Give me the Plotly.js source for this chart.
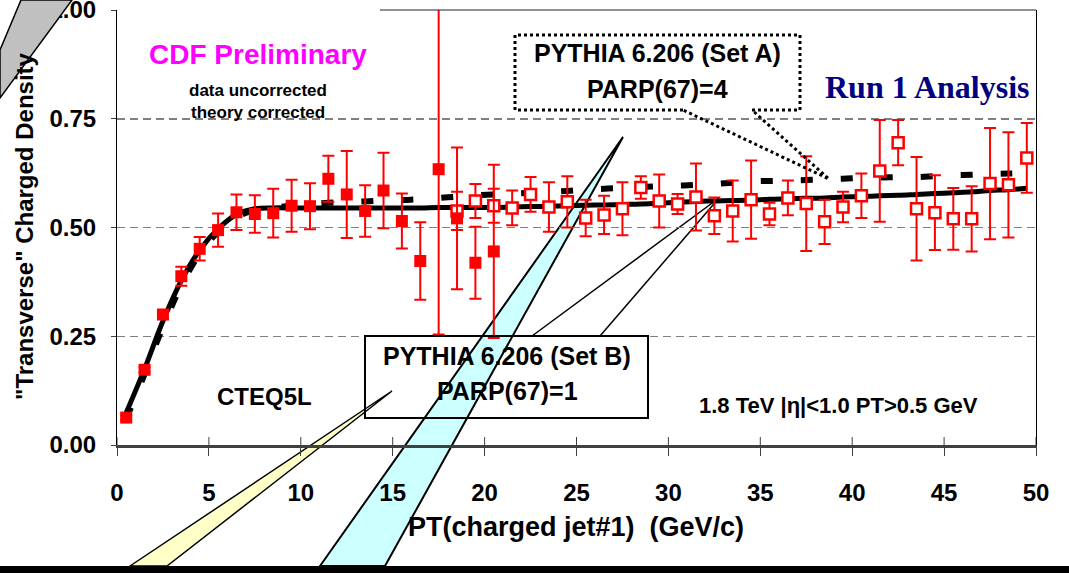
<!DOCTYPE html>
<html><head><meta charset="utf-8">
<script src="https://cdn.plot.ly/plotly-3.0.1.min.js"></script>
<style>html,body{margin:0;padding:0;background:#fff}#chart{width:1069px;height:573px}</style>
</head><body><div id="chart"></div>
<script>
// ---- data ----
const binsFilled = [0.5,1.5,2.5,3.5,4.5,5.5,6.5,7.5,8.5,9.5,10.5,11.5,12.5,13.5,14.5,15.5,16.5,17.5,18.5,19.5,20.5];
const densFilled = [0.063,0.173,0.300,0.388,0.451,0.494,0.535,0.531,0.533,0.550,0.549,0.612,0.576,0.538,0.585,0.515,0.423,0.634,0.521,0.419,0.445];
const errFilled  = [0.005,0.006,0.010,0.022,0.027,0.038,0.041,0.043,0.056,0.060,0.053,0.053,0.100,0.059,0.087,0.063,0.089,0.380,0.163,0.083,0.199];

const binsOpen = [18.5,19.5,20.5,21.5,22.5,23.5,24.5,25.5,26.5,27.5,28.5,29.5,30.5,31.5,32.5,33.5,34.5,35.5,36.5,37.5,38.5,39.5,40.5,41.5,42.5,43.5,44.5,45.5,46.5,47.5,48.5,49.5];
const densOpen = [0.538,0.561,0.550,0.545,0.576,0.547,0.559,0.522,0.529,0.543,0.592,0.561,0.554,0.570,0.527,0.538,0.564,0.531,0.568,0.555,0.513,0.547,0.573,0.630,0.695,0.543,0.534,0.520,0.520,0.601,0.598,0.660];
const errOpen  = [0.044,0.039,0.039,0.040,0.040,0.057,0.059,0.042,0.044,0.061,0.026,0.061,0.023,0.077,0.042,0.070,0.090,0.026,0.040,0.109,0.051,0.035,0.051,0.117,0.052,0.119,0.086,0.071,0.075,0.128,0.121,0.080];

const binsTheory = [0.5,1.5,2.5,3.5,4.5,5.5,6.5,7.5,8.5,9.5,10.5,11.5,12.5,13.5,14.5,15.5,16.5,17.5,18.5,19.5,20.5,21.5,22.5,23.5,24.5,25.5,26.5,27.5,28.5,29.5,30.5,31.5,32.5,33.5,34.5,35.5,36.5,37.5,38.5,39.5,40.5,41.5,42.5,43.5,44.5,45.5,46.5,47.5,48.5,49.5];
const pythiaSetB = [0.074,0.175,0.285,0.378,0.448,0.497,0.530,0.543,0.545,0.545,0.545,0.545,0.545,0.545,0.545,0.545,0.545,0.546,0.546,0.546,0.546,0.547,0.548,0.549,0.550,0.551,0.552,0.553,0.554,0.556,0.558,0.560,0.561,0.562,0.563,0.565,0.566,0.567,0.568,0.570,0.571,0.573,0.574,0.576,0.578,0.580,0.582,0.585,0.587,0.590];
const pythiaSetA = [0.060,0.163,0.272,0.366,0.440,0.490,0.524,0.540,0.546,0.550,0.553,0.557,0.559,0.560,0.562,0.563,0.565,0.568,0.571,0.574,0.576,0.578,0.580,0.582,0.584,0.587,0.589,0.591,0.593,0.595,0.596,0.598,0.600,0.603,0.606,0.607,0.608,0.609,0.611,0.612,0.614,0.615,0.616,0.616,0.618,0.620,0.621,0.623,0.624,0.625];

const xTicks = [0,5,10,15,20,25,30,35,40,45,50];
const yTicks = [0,0.25,0.5,0.75,1.0];
const yTickText = ['0.00','0.25','0.50','0.75','1.00'];

// ---- layout helpers (pixel -> paper) ----
const W = 1069, H = 573, PL = 117, PR = 1036, PT = 10, PB = 445;
const fx = px => (px - PL) / (PR - PL);
const fy = py => (PB - py) / (PB - PT);
const path = pts => 'M' + pts.map(p => fx(p[0]) + ',' + fy(p[1])).join(' L') + ' Z';
const FONT = 'Liberation Sans, Arial, sans-serif';

const traces = [
  {x: binsTheory, y: pythiaSetB, mode: 'lines', line: {color: '#000', width: 5, shape: 'spline', smoothing: 1}, hoverinfo: 'skip', name: 'PYTHIA 6.206 (Set B)'},
  {x: binsTheory, y: pythiaSetA, mode: 'lines', line: {color: '#000', width: 6, dash: '12px,28px', shape: 'spline', smoothing: 1}, hoverinfo: 'skip', name: 'PYTHIA 6.206 (Set A)'},
  {x: binsOpen, y: densOpen, mode: 'markers', name: 'CDF data (open)',
   error_y: {type: 'data', array: errOpen, visible: true, color: '#ff0000', thickness: 2, width: 6},
   marker: {symbol: 'square', size: 11, color: '#ffffff', line: {color: '#ff0000', width: 2.5}}},
  {x: binsFilled, y: densFilled, mode: 'markers', name: 'CDF data', cliponaxis: false,
   error_y: {type: 'data', array: errFilled, visible: true, color: '#ff0000', thickness: 2, width: 6},
   marker: {symbol: 'square', size: 12, color: '#ff0000'}}
];

function ann(text, px, py, size, opts) {
  return Object.assign({text: text, xref: 'paper', yref: 'paper', x: fx(px), y: fy(py),
    xanchor: 'center', yanchor: 'middle', showarrow: false,
    font: {family: FONT, size: size, color: '#000'}}, opts || {});
}

const annotations = [
  ann('<b>CDF Preliminary</b>', 258, 55, 28, {font: {family: FONT, size: 28, color: '#ff00ff'}}),
  ann('<b>data uncorrected</b>', 258, 90, 17),
  ann('<b>theory corrected</b>', 258, 113, 17),
  ann('<b>Run 1 Analysis</b>', 927, 87, 32, {font: {family: 'Liberation Serif, Times New Roman, serif', size: 32, color: '#000080'}}),
  ann('<b>PYTHIA 6.206 (Set A)</b>', 657, 53, 25),
  ann('<b>PARP(67)=4</b>', 657, 89, 25),
  ann('<b>PYTHIA 6.206 (Set B)</b>', 507, 356, 25),
  ann('<b>PARP(67)=1</b>', 507, 391, 25),
  ann('<b>CTEQ5L</b>', 264, 396, 24),
  ann('<b>1.8 TeV |&#951;|&lt;1.0 PT&gt;0.5 GeV</b>', 838, 405, 22),
  ann('<b>PT(charged jet#1) &nbsp;(GeV/c)</b>', 576, 527, 27),
  ann('<b>"Transverse" Charged Density</b>', 24, 226, 24, {textangle: -90})
];

const shapes = [
  // call-out pointers (drawn under the data)
  {type: 'path', xref: 'paper', yref: 'paper', layer: 'below', path: path([[130,566],[392,391],[167,566]]), fillcolor: '#ffffc8', line: {color: '#000', width: 1.5}},
  {type: 'path', xref: 'paper', yref: 'paper', layer: 'below', path: path([[320,566],[623,137],[385,566]]), fillcolor: '#ccffff', line: {color: '#000', width: 2}},
  {type: 'line', xref: 'paper', yref: 'paper', layer: 'below', x0: fx(532), y0: fy(336), x1: fx(719), y1: fy(198), line: {color: '#000', width: 1.5}},
  {type: 'line', xref: 'paper', yref: 'paper', layer: 'below', x0: fx(600), y0: fy(336), x1: fx(719), y1: fy(198), line: {color: '#000', width: 1.5}},
  // Set B box
  {type: 'rect', xref: 'paper', yref: 'paper', layer: 'above', x0: fx(365), x1: fx(648), y0: fy(418), y1: fy(336), line: {color: '#000', width: 2}},
  // Set A dotted callout box
  {type: 'path', xref: 'paper', yref: 'paper', layer: 'above', path: path([[683,110],[515,110],[515,35],[800,35],[800,110],[752,110],[829,179]]), line: {color: '#000', width: 3, dash: 'dot'}},
  // grey pointer in the top-left corner
  {type: 'path', xref: 'paper', yref: 'paper', layer: 'above', path: path([[0,50],[21,0],[72,0],[0,98]]), fillcolor: '#c0c0c0', line: {color: '#000', width: 1.5}},
  // top frame line and black strip at the bottom
  {type: 'line', xref: 'paper', yref: 'paper', layer: 'above', x0: fx(380), x1: 1, y0: 1, y1: 1, line: {color: '#222', width: 1}},
  {type: 'rect', xref: 'paper', yref: 'paper', layer: 'above', x0: fx(0), x1: fx(W), y0: fy(H), y1: fy(566), fillcolor: '#000', line: {width: 0}}
];
// inner half of the crossing x ticks
xTicks.forEach(t => shapes.push({type: 'line', xref: 'x', yref: 'paper', layer: 'above', x0: t, x1: t, y0: 0, y1: 8 / (PB - PT), line: {color: '#404040', width: 1}}));

const layout = {
  width: W, height: H,
  margin: {l: PL, r: W - PR, t: PT, b: H - PB, pad: 0},
  paper_bgcolor: '#ffffff', plot_bgcolor: 'rgba(0,0,0,0)',
  showlegend: false,
  font: {family: FONT, color: '#000'},
  xaxis: {range: [0, 50], tickvals: xTicks, ticktext: xTicks.map(String), showgrid: false, zeroline: false,
    showline: true, linecolor: '#404040', linewidth: 3, ticks: 'outside', ticklen: 8, tickwidth: 1, tickcolor: '#404040',
    ticklabelstandoff: 16, ticklabeloverflow: 'allow',
    tickfont: {family: FONT, size: 24, weight: 'bold', color: '#000'}},
  yaxis: {range: [0, 1.0], tickvals: yTicks, ticktext: yTickText, showgrid: true, gridcolor: '#808080', gridwidth: 1.5,
    griddash: '8px,5px', zeroline: false, showline: true, mirror: true, linecolor: '#000', linewidth: 1,
    ticks: 'outside', ticklen: 5, tickcolor: '#404040', ticklabelstandoff: 10, ticklabeloverflow: 'allow',
    tickfont: {family: FONT, size: 24, weight: 'bold', color: '#000'}},
  annotations: annotations,
  shapes: shapes
};

Plotly.newPlot('chart', traces, layout, {displayModeBar: false, staticPlot: true});
</script>
</body></html>
